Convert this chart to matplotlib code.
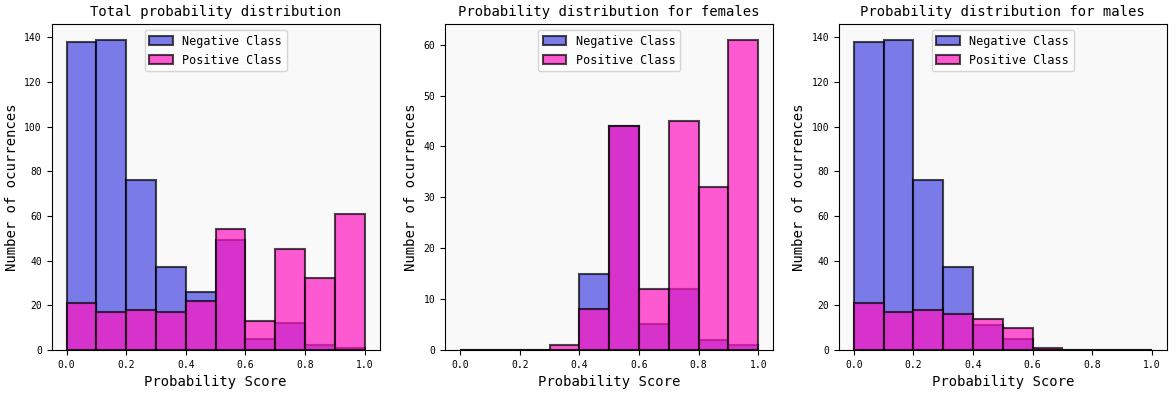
import numpy as np
import matplotlib
matplotlib.use("Agg")
import matplotlib.pyplot as plt

bin_edges = [0.0, 0.1, 0.2, 0.3, 0.4, 0.5, 0.6, 0.7, 0.8, 0.9, 1.0]

total_neg = [138, 139, 76, 37, 26, 49, 5, 12, 2, 1]
total_pos = [21, 17, 18, 17, 22, 54, 13, 45, 32, 61]

female_neg = [0, 0, 0, 0, 15, 44, 5, 12, 2, 1]
female_pos = [0, 0, 0, 1, 8, 44, 12, 45, 32, 61]

male_neg = [138, 139, 76, 37, 11, 5, 0, 0, 0, 0]
male_pos = [21, 17, 18, 16, 14, 10, 1, 0, 0, 0]

titles = ["Total probability distribution",
          "Probability distribution for females",
          "Probability distribution for males"]
panels = [(total_neg, total_pos), (female_neg, female_pos), (male_neg, male_pos)]

plt.rcParams['font.family'] = ['DejaVu Sans Mono']

fig, axes = plt.subplots(1, 3, figsize=(11.75, 3.94), dpi=100)
fig.subplots_adjust(left=0.044, right=0.993, top=0.939, bottom=0.112, wspace=0.2)

edges = np.array(bin_edges)
centers = (edges[:-1] + edges[1:]) / 2

neg_color = '#4545e1'
pos_color = '#ff16c1'

for ax, title, (neg, pos) in zip(axes, titles, panels):
    ax.set_facecolor('#f9f9f9')
    ax.hist(centers, bins=edges, weights=neg, color=neg_color, alpha=0.7,
            edgecolor='black', linewidth=1.5, label='Negative Class')
    ax.hist(centers, bins=edges, weights=pos, color=pos_color, alpha=0.7,
            edgecolor='black', linewidth=1.5, label='Positive Class')
    ax.set_title(title, fontsize=10)
    ax.set_xlabel('Probability Score', fontsize=10)
    ax.set_ylabel('Number of ocurrences', fontsize=10)
    ax.tick_params(labelsize=7)
    ax.legend(loc='upper center', fontsize=8.5)

fig.savefig('out.png', dpi=100)
